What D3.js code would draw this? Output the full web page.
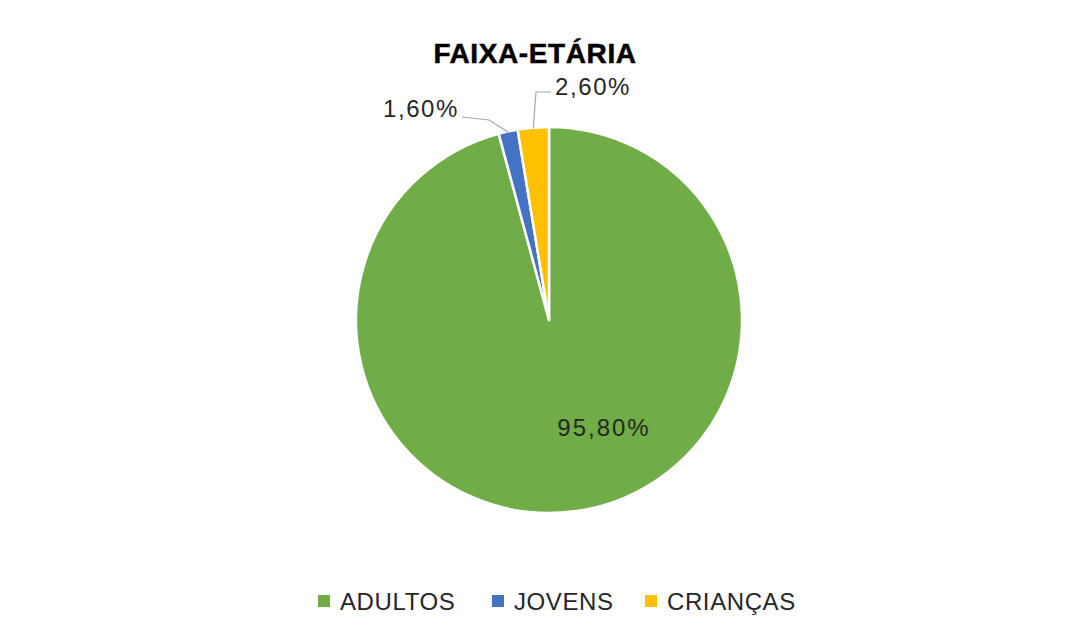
<!DOCTYPE html>
<html>
<head>
<meta charset="utf-8">
<script src="https://cdn.jsdelivr.net/npm/d3@7"></script>
<style>
  body { margin: 0; background: #fff; }
  text { font-family: "Liberation Sans", Arial, sans-serif; }
</style>
</head>
<body>
<div id="chart-area"></div>
<script>
const categories = ["ADULTOS", "JOVENS", "CRIANÇAS"]
const values = [95.8, 1.6, 2.6]
const labels = ["95,80%", "1,60%", "2,60%"]
const colors = ["#70AD47", "#4472C4", "#FFC000"]

const w = 1082
const h = 634
const cx = 549, cy = 320, r = 193

const svg = d3.select("#chart-area")
  .append("svg")
  .attr("width", w)
  .attr("height", h)

svg.append("text")
  .attr("x", 535)
  .attr("y", 63)
  .attr("text-anchor", "middle")
  .attr("font-size", 28)
  .attr("font-weight", "bold")
  .attr("letter-spacing", 0.6)
  .attr("fill", "#000")
  .attr("stroke", "#000")
  .attr("stroke-width", 0.5)
  .text("FAIXA-ETÁRIA")

const pie = d3.pie().sort(null).value(d => d)
const arcs = pie(values)
const arc = d3.arc().innerRadius(0).outerRadius(r)

const g = svg.append("g").attr("transform", `translate(${cx},${cy})`)

g.selectAll("path")
  .data(arcs)
  .enter()
  .append("path")
  .attr("d", arc)
  .attr("fill", (d, i) => colors[i])
  .attr("stroke", "#fff")
  .attr("stroke-width", 2.5)
  .attr("stroke-linejoin", "round")

// point on the slice edge at mid angle
const edge = (d, rad) => {
  const a = (d.startAngle + d.endAngle) / 2
  return [rad * Math.sin(a), -rad * Math.cos(a)]
}

// big inner label
g.append("text")
  .attr("x", 55)
  .attr("y", 116)
  .attr("text-anchor", "middle")
  .attr("font-size", 24)
  .attr("letter-spacing", 2)
  .attr("fill", "#262626")
  .text(labels[0])

// outside labels with leader lines
const outside = [
  { i: 1, lx: -90, ly: -203, anchor: "end", line: p => [[-87, -203], [-60, -200], [p[0], p[1]]] },
  { i: 2, lx: 6, ly: -225, anchor: "start", line: p => [[2, -228], [-13, -228], [p[0], p[1]]] }
]

outside.forEach(o => {
  const p = edge(arcs[o.i], r - 1)
  g.append("path")
    .attr("d", d3.line()(o.line(p)))
    .attr("fill", "none")
    .attr("stroke", "#a6a6a6")
    .attr("stroke-width", 1.2)
  g.append("text")
    .attr("x", o.lx)
    .attr("y", o.ly)
    .attr("text-anchor", o.anchor)
    .attr("font-size", 24)
    .attr("letter-spacing", 1.6)
    .attr("fill", "#262626")
    .text(labels[o.i])
})

// legend
const legendX = [318, 492, 645]
const legend = svg.selectAll(".legend-item")
  .data(categories)
  .enter()
  .append("g")
  .attr("class", "legend-item")
  .attr("transform", (d, i) => `translate(${legendX[i]},595)`)

legend.append("rect")
  .attr("width", 12)
  .attr("height", 12)
  .attr("fill", (d, i) => colors[i])

legend.append("text")
  .attr("x", 22)
  .attr("y", 15)
  .attr("font-size", 24)
  .attr("letter-spacing", 0.6)
  .attr("fill", "#262626")
  .text(d => d)
</script>
</body>
</html>
